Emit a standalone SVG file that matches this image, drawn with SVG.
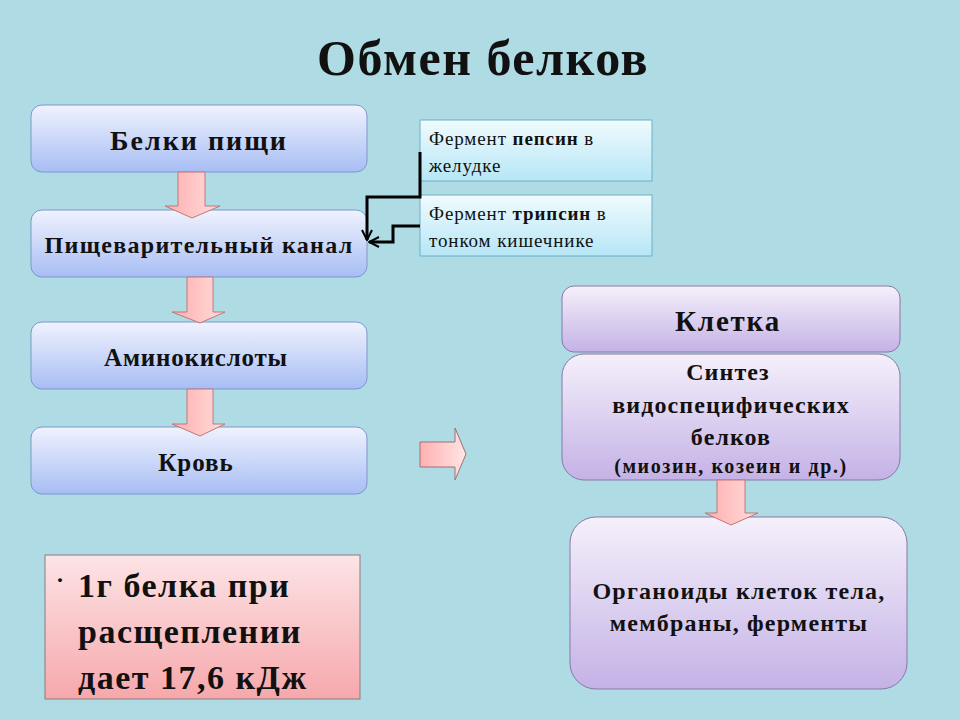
<svg xmlns="http://www.w3.org/2000/svg" width="960" height="720" viewBox="0 0 960 720">
<defs>
<linearGradient id="gBlue" x1="0" y1="0" x2="0" y2="1"><stop offset="0" stop-color="#f0f3fe"/><stop offset="1" stop-color="#a7bdf4"/></linearGradient>
<linearGradient id="gPurple" x1="0" y1="0" x2="0" y2="1"><stop offset="0" stop-color="#f5f0fb"/><stop offset="1" stop-color="#c4b2e6"/></linearGradient>
<linearGradient id="gCyan" x1="0" y1="0" x2="0" y2="1"><stop offset="0" stop-color="#f0fbfe"/><stop offset="1" stop-color="#b6e6f6"/></linearGradient>
<linearGradient id="gPink" x1="0" y1="0" x2="0" y2="1"><stop offset="0" stop-color="#fde4e6"/><stop offset="1" stop-color="#f6a8ac"/></linearGradient>
<linearGradient id="gArrowV" x1="0" y1="0" x2="1" y2="0"><stop offset="0" stop-color="#ffaeae"/><stop offset="1" stop-color="#ffdcdc"/></linearGradient>
<linearGradient id="gArrowH" x1="0" y1="0" x2="1" y2="0"><stop offset="0" stop-color="#ffb0b0"/><stop offset="1" stop-color="#ffe6e6"/></linearGradient>
<marker id="open" viewBox="0 0 12 12" refX="11" refY="6" markerWidth="12" markerHeight="12" markerUnits="userSpaceOnUse" orient="auto"><path d="M1,1 L11,6 L1,11" fill="none" stroke="#000" stroke-width="2"/></marker>
</defs>
<style>
.blue{fill:url(#gBlue);stroke:#7d97cf;stroke-width:1}
.purple{fill:url(#gPurple);stroke:#8878a8;stroke-width:1}
.cyan{fill:url(#gCyan);stroke:#6fb0c4;stroke-width:1}
.arr{fill:url(#gArrowV);stroke:#c07878;stroke-width:1}
.t{font-family:"Liberation Serif","Times New Roman",serif;font-weight:bold;fill:#111;text-anchor:middle}
.s{font-family:"Liberation Serif","Times New Roman",serif;font-size:19px;letter-spacing:0.9px;fill:#111}
.b{font-family:"Liberation Serif","Times New Roman",serif;font-size:34px;letter-spacing:1.5px;font-weight:bold;fill:#111}
.conn{fill:none;stroke:#000;stroke-width:3}
</style>
<rect x="0" y="0" width="960" height="720" fill="#aedbe4"/>
<text x="483" y="75" class="t" font-size="50" letter-spacing="1.5">Обмен белков</text>

<g id="n-belki">
<rect class="blue" x="31" y="105" width="336" height="67" rx="11"/>
<text x="199" y="150" class="t" font-size="28" letter-spacing="2">Белки пищи</text>
</g>
<g id="n-kanal">
<rect class="blue" x="31" y="210" width="336" height="67" rx="11"/>
<text x="199" y="253" class="t" font-size="24" letter-spacing="1.3">Пищеварительный канал</text>
</g>
<g id="n-amino">
<rect class="blue" x="31" y="322" width="336" height="67" rx="11"/>
<text x="196" y="366" class="t" font-size="25" letter-spacing="0.8">Аминокислоты</text>
</g>
<g id="n-krov">
<rect class="blue" x="31" y="427" width="336" height="67" rx="11"/>
<text x="196" y="471" class="t" font-size="25" letter-spacing="1">Кровь</text>
</g>

<g id="n-pepsin">
<rect class="cyan" x="420" y="120" width="232" height="61"/>
<text x="429" y="145" class="s">Фермент <tspan font-weight="bold">пепсин</tspan> в</text>
<text x="429" y="172" class="s">желудке</text>
</g>
<g id="n-tripsin">
<rect class="cyan" x="420" y="195" width="232" height="61"/>
<text x="429" y="220" class="s">Фермент <tspan font-weight="bold">трипсин</tspan> в</text>
<text x="429" y="247" class="s">тонком кишечнике</text>
</g>

<g id="n-kletka">
<rect class="purple" x="562" y="286" width="338" height="66" rx="12"/>
<text x="728" y="331" class="t" font-size="29" letter-spacing="1.8">Клетка</text>
</g>
<g id="n-sintez">
<rect class="purple" x="562" y="354" width="338" height="126" rx="22"/>
<g class="t" font-size="24" letter-spacing="1.1">
<text x="728" y="380">Синтез</text>
<text x="731" y="413">видоспецифических</text>
<text x="731" y="445">белков</text>
</g>
<text x="731" y="473" class="t" font-size="20" letter-spacing="1.6">(миозин, козеин и др.)</text>
</g>
<g id="n-organoidy">
<rect class="purple" x="570" y="517" width="337" height="172" rx="26"/>
<g class="t" font-size="24" letter-spacing="1.2">
<text x="739" y="599">Органоиды клеток тела,</text>
<text x="739" y="631">мембраны, ферменты</text>
</g>
</g>

<g id="n-energy">
<rect x="45" y="555" width="315" height="144" fill="url(#gPink)" stroke="#8c7a7a" stroke-width="1"/>
<text x="56" y="588" font-family="'Liberation Serif',serif" font-size="24" font-weight="bold" fill="#111">·</text>
<text x="78" y="597" class="b">1г белка при</text>
<text x="78" y="643" class="b">расщеплении</text>
<text x="78" y="689" class="b">дает 17,6 кДж</text>
</g>

<g id="connectors">
<path class="arr" d="M178,172 H205 V206 H220 L192,218 L165,206 H178 Z"/>
<path class="arr" d="M187,277 H213 V312 H225 L200,323 L172,312 H187 Z"/>
<path class="arr" d="M187,389 H213 V424 H225 L200,436 L172,424 H187 Z"/>
<path class="arr" d="M717,480 H745 V513 H758 L731,525 L705,513 H717 Z"/>
<path d="M420,442 H455 V428 L466,454 L455,480 V467 H420 Z" fill="url(#gArrowH)" stroke="#a07070" stroke-width="1"/>
<path class="conn" d="M420,152 V197 H367 V240" marker-end="url(#open)"/>
<path class="conn" d="M420,226 H393 V242 H369" marker-end="url(#open)"/>
</g>
</svg>
